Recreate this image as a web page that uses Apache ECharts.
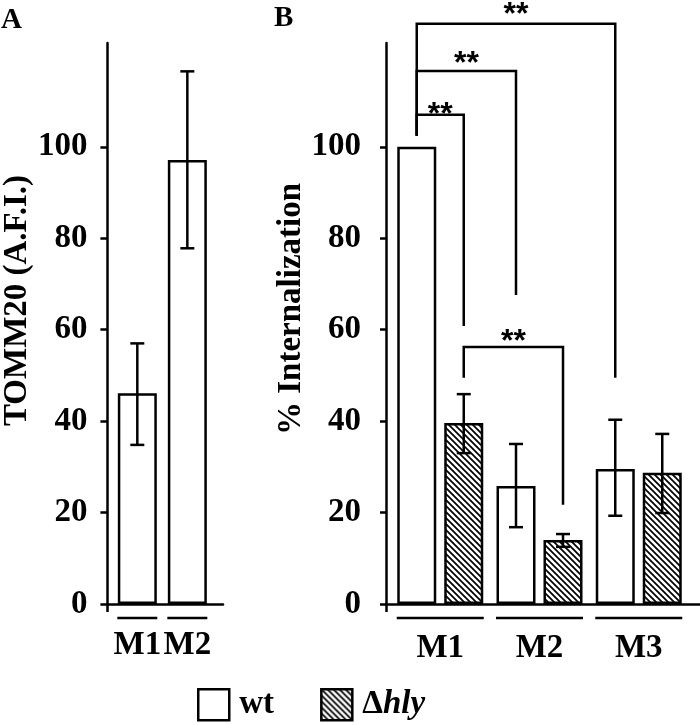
<!DOCTYPE html>
<html><head><meta charset="utf-8">
<script src="https://cdn.jsdelivr.net/npm/echarts@6/dist/echarts.min.js"></script>
<style>html,body{margin:0;padding:0;background:#fff}#c{width:700px;height:725px}</style>
</head><body><div id="c"></div>
<script>
// ---------- data ----------
const catA = ['M1', 'M2'];
const tommA = [46.1, 97.1];
const tommLowA = [34.8, 77.8];
const tommHighA = [57.0, 116.5];

const catB = ['M1', 'M2', 'M3'];
const wtB = [100, 25.8, 29.5];
const wtLowB = [null, 16.8, 19.3];
const wtHighB = [null, 35.0, 40.3];
const hlyB = [39.6, 14.0, 28.7];
const hlyLowB = [33.0, 12.5, 19.9];
const hlyHighB = [45.9, 15.3, 37.2];

const yTicks = [0, 20, 40, 60, 80, 100];
const seriesNames = ['wt', 'Δhly'];

// significance brackets: [leftCat, leftSeries, leftEnd, rightCat, rightSeries, rightEnd, top]
const brackets = [
  [0, 0, 102.4, 0, 1, 60.8, 107.0],
  [0, 0, 102.4, 1, 0, 67.6, 116.6],
  [0, 0, 102.4, 2, 0, 49.5, 126.9],
  [0, 1, 49.5, 1, 1, 21.7, 56.2]
];
const bracketMarks = ['**', '**', '**', '**'];

// ---------- style / layout ----------
const SERIF = '"Liberation Serif","Times New Roman",serif';
const LW = 2.5;
const BAR_W = 39;
const HALF_OFF = 23.5;
const starLift = [8, 15, 17, 13];
const Y_MAX = 122.7;

function hatchTile() {
  const c = document.createElement('canvas');
  c.width = 6; c.height = 6;
  const g = c.getContext('2d');
  g.fillStyle = '#fff'; g.fillRect(0, 0, 6, 6);
  g.strokeStyle = '#000'; g.lineWidth = 1.7;
  g.beginPath();
  g.moveTo(-1, -1); g.lineTo(7, 7);
  g.moveTo(-1, 5); g.lineTo(1, 7);
  g.moveTo(5, -1); g.lineTo(7, 1);
  g.stroke();
  return c;
}
const hatch = { image: hatchTile(), repeat: 'repeat' };

function errRender(offset) {
  return function (params, api) {
    const x = api.value(0);
    const pLo = api.coord([x, api.value(1)]);
    const pHi = api.coord([x, api.value(2)]);
    const cx = pLo[0] + offset, h = 7;
    const st = { stroke: '#000', lineWidth: LW };
    return { type: 'group', children: [
      { type: 'line', shape: { x1: cx, y1: pHi[1], x2: cx, y2: pLo[1] }, style: st },
      { type: 'line', shape: { x1: cx - h, y1: pHi[1], x2: cx + h, y2: pHi[1] }, style: st },
      { type: 'line', shape: { x1: cx - h, y1: pLo[1], x2: cx + h, y2: pLo[1] }, style: st }
    ]};
  };
}
function underRender(half) {
  return function (params, api) {
    const p = api.coord([api.value(0), 0]);
    return { type: 'line', shape: { x1: p[0] - half, y1: p[1] + 14, x2: p[0] + half, y2: p[1] + 14 },
      style: { stroke: '#000', lineWidth: LW } };
  };
}
function bracketRender(params, api) {
  const v = k => api.value(k);
  const xl = api.coord([v(0) + 1, 0])[0] + (v(1) === 0 ? -HALF_OFF : HALF_OFF);
  const xr = api.coord([v(3) + 1, 0])[0] + (v(4) === 0 ? -HALF_OFF : HALF_OFF);
  const yl = api.coord([1, v(2)])[1];
  const yr = api.coord([1, v(5)])[1];
  const yt = api.coord([1, v(6)])[1];
  const i = params.dataIndex;
  return { type: 'group', children: [
    { type: 'polyline', shape: { points: [[xl, yl], [xl, yt], [xr, yt], [xr, yr]] },
      style: { stroke: '#000', lineWidth: LW, fill: null } },
    { type: 'text', style: { text: bracketMarks[i], x: (xl + xr) / 2, y: yt - starLift[i] + 8,
      textAlign: 'center', textVerticalAlign: 'middle', fontSize: 32, fontWeight: 'bold',
      fontFamily: '"Liberation Sans",Arial,sans-serif', fill: '#000' } }
  ]};
}

const axisFont = { fontFamily: SERIF, fontWeight: 'bold', fontSize: 33, color: '#000' };

function yAxisDef(gridIndex, name, labelMargin, tickLen, nameGap, padLeft) {
  return {
    type: 'value', gridIndex: gridIndex, min: 0, max: Y_MAX, interval: 20,
    name: name, nameLocation: 'middle', nameRotate: 90, nameGap: nameGap,
    nameTextStyle: Object.assign({ padding: [0, 0, 0, padLeft] }, axisFont),
    axisLine: { show: true, lineStyle: { color: '#000', width: LW } },
    axisTick: { show: true, length: tickLen, customValues: yTicks, lineStyle: { color: '#000', width: LW } },
    axisLabel: Object.assign({ margin: labelMargin, customValues: yTicks }, axisFont),
    splitLine: { show: false }
  };
}
function xAxisDef(gridIndex, min, max, cats, margin) {
  return {
    type: 'value', gridIndex: gridIndex, min: min, max: max,
    axisLine: { show: true, onZero: false, lineStyle: { color: '#000', width: LW } },
    axisTick: { show: true, length: 8, customValues: [min], lineStyle: { color: '#000', width: LW } },
    axisLabel: Object.assign({ margin: margin, customValues: cats.map((c, i) => i + 1),
      formatter: v => cats[Math.round(v) - 1] || '' }, axisFont),
    splitLine: { show: false }
  };
}

const chart = echarts.init(document.getElementById('c'), null, { renderer: 'canvas' });
chart.setOption({
  backgroundColor: '#fff',
  animation: false,
  title: [
    { text: 'A', left: -4, top: 1, textStyle: { fontFamily: SERIF, fontWeight: 'bold', fontSize: 29, color: '#000' } },
    { text: 'B', left: 269, top: -1, textStyle: { fontFamily: SERIF, fontWeight: 'bold', fontSize: 29, color: '#000' } }
  ],
  grid: [
    { left: 104, top: 43, width: 119, height: 561 },
    { left: 386, top: 43, width: 314, height: 561 }
  ],
  xAxis: [
    xAxisDef(0, 0.402, 2.713, catA, 25),
    xAxisDef(1, 0.4534, 3.617, catB, 28)
  ],
  yAxis: [
    yAxisDef(0, 'TOMM20 (A.F.I.)', 20, 7, 72, 46),
    yAxisDef(1, '% Internalization', 25, 6, 78, 29)
  ],
  legend: {
    left: 192, top: 683, itemWidth: 31, itemHeight: 31, itemGap: 46,
    selectedMode: false, icon: 'rect',
    data: seriesNames,
    itemStyle: { borderColor: '#000', borderWidth: LW },
    formatter: n => n === 'Δhly' ? '{d|Δ}{i|hly}' : '{b|wt}',
    textStyle: {
      padding: [0, 0, 0, 5],
      rich: {
        b: { fontFamily: SERIF, fontWeight: 'bold', fontSize: 33, color: '#000' },
        d: { fontFamily: SERIF, fontWeight: 'bold', fontSize: 33, color: '#000' },
        i: { fontFamily: SERIF, fontWeight: 'bold', fontStyle: 'italic', fontSize: 33, color: '#000' }
      }
    }
  },
  series: [
    { name: 'A', type: 'bar', xAxisIndex: 0, yAxisIndex: 0, barWidth: BAR_W,
      data: catA.map((c, i) => [i + 1, tommA[i]]),
      itemStyle: { color: '#fff', borderColor: '#000', borderWidth: LW } },
    { type: 'custom', xAxisIndex: 0, yAxisIndex: 0, renderItem: errRender(0), clip: false, z: 5,
      data: catA.map((c, i) => [i + 1, tommLowA[i], tommHighA[i]]) },
    { type: 'custom', xAxisIndex: 0, yAxisIndex: 0, renderItem: underRender(20), clip: false,
      data: catA.map((c, i) => [i + 1]) },

    { name: seriesNames[0], type: 'bar', xAxisIndex: 1, yAxisIndex: 1, barWidth: BAR_W, barGap: '20.5%',
      data: catB.map((c, i) => [i + 1, wtB[i]]),
      itemStyle: { color: '#fff', borderColor: '#000', borderWidth: LW } },
    { name: seriesNames[1], type: 'bar', xAxisIndex: 1, yAxisIndex: 1, barWidth: BAR_W, barGap: '20.5%',
      data: catB.map((c, i) => [i + 1, hlyB[i]]),
      itemStyle: { color: hatch, borderColor: '#000', borderWidth: LW } },
    { type: 'custom', xAxisIndex: 1, yAxisIndex: 1, renderItem: errRender(-HALF_OFF), clip: false, z: 5,
      data: catB.map((c, i) => wtLowB[i] == null ? null : [i + 1, wtLowB[i], wtHighB[i]]).filter(Boolean) },
    { type: 'custom', xAxisIndex: 1, yAxisIndex: 1, renderItem: errRender(HALF_OFF), clip: false, z: 5,
      data: catB.map((c, i) => [i + 1, hlyLowB[i], hlyHighB[i]]) },
    { type: 'custom', xAxisIndex: 1, yAxisIndex: 1, renderItem: underRender(43.5), clip: false,
      data: catB.map((c, i) => [i + 1]) },
    { type: 'custom', xAxisIndex: 1, yAxisIndex: 1, renderItem: bracketRender, clip: false, z: 6,
      data: brackets }
  ]
});
</script></body></html>
